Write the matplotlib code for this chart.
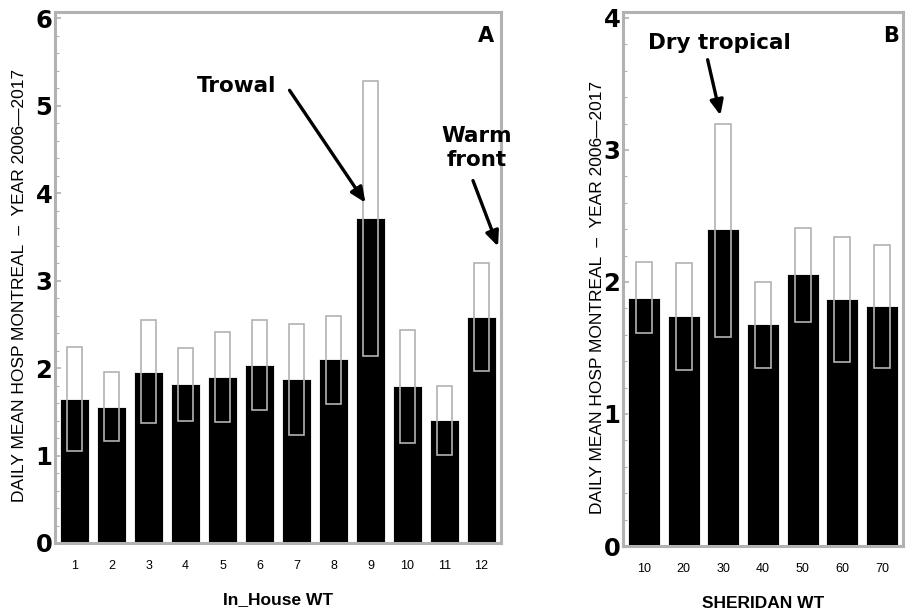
import numpy as np
import matplotlib
matplotlib.use("Agg")
import matplotlib.pyplot as plt
from matplotlib.ticker import MultipleLocator

# ============== data
inhouse_wt = [1, 2, 3, 4, 5, 6, 7, 8, 9, 10, 11, 12]
inhouse_mean = [1.65, 1.56, 1.96, 1.82, 1.90, 2.04, 1.87, 2.10, 3.72, 1.80, 1.41, 2.58]
inhouse_lo = [1.05, 1.17, 1.37, 1.39, 1.38, 1.52, 1.24, 1.59, 2.14, 1.14, 1.01, 1.97]
inhouse_hi = [2.24, 1.96, 2.55, 2.23, 2.41, 2.55, 2.50, 2.60, 5.28, 2.43, 1.80, 3.20]

sheridan_wt = [10, 20, 30, 40, 50, 60, 70]
sheridan_mean = [1.88, 1.74, 2.40, 1.68, 2.06, 1.87, 1.82]
sheridan_lo = [1.61, 1.33, 1.58, 1.35, 1.70, 1.39, 1.35]
sheridan_hi = [2.15, 2.14, 3.20, 2.00, 2.41, 2.34, 2.28]

W, H = 906, 612
GRAY = "#b2b2b2"
YLABEL = "DAILY MEAN HOSP MONTREAL  \u2013  YEAR 2006\u20142017"

fig = plt.figure(figsize=(W / 100, H / 100), dpi=100)


def px_axes(x0, y0, x1, y1):
    # axes from pixel box (top-left origin)
    return fig.add_axes([x0 / W, 1 - y1 / H, (x1 - x0) / W, (y1 - y0) / H])


def draw_panel(ax, cats, mean, lo, hi, ymax, letter):
    pos = np.arange(1, len(cats) + 1)
    ax.bar(pos, mean, width=0.8, color="black", edgecolor="white", linewidth=0.6, zorder=2)
    ax.bar(pos, np.array(hi) - np.array(lo), bottom=lo, width=0.4,
           fill=False, edgecolor=GRAY, linewidth=1.2, zorder=3)
    ax.set_xlim(pos[0] - 0.53, pos[-1] + 0.53)
    ax.set_ylim(0, ymax)
    ax.set_xticks(pos)
    ax.set_xticklabels([str(c) for c in cats], fontsize=9, family="Liberation Sans")
    ax.yaxis.set_major_locator(MultipleLocator(1))
    ax.yaxis.set_minor_locator(MultipleLocator(0.2))
    for lab in ax.get_yticklabels():
        lab.set_fontsize(17.5)
        lab.set_fontweight("bold")
        lab.set_family("DejaVu Sans")
    ax.tick_params(axis="y", which="both", direction="in", color=GRAY, pad=2)
    ax.tick_params(axis="y", which="major", length=4, width=1.2)
    ax.tick_params(axis="y", which="minor", length=3, width=0.8)
    ax.tick_params(axis="x", length=0, pad=12)
    for sp in ax.spines.values():
        sp.set_color(GRAY)
        sp.set_linewidth(2.2)
    ax.text(0.985, 0.955, letter, transform=ax.transAxes, ha="right", va="center",
            fontsize=15, fontweight="bold", family="DejaVu Sans")


# ---------- panel A
axA = px_axes(55, 12, 501, 543)
draw_panel(axA, inhouse_wt, inhouse_mean, inhouse_lo, inhouse_hi, 6.07, "A")

# ---------- panel B
axB = px_axes(623, 12, 903, 546)
draw_panel(axB, sheridan_wt, sheridan_mean, sheridan_lo, sheridan_hi, 4.045, "B")

# axis titles
fig.text(278 / W, 1 - 600 / H, "In_House WT", ha="center", va="center",
         fontsize=12.5, fontweight="bold", family="Liberation Sans")
fig.text(763 / W, 1 - 603 / H, "SHERIDAN WT", ha="center", va="center",
         fontsize=12.5, fontweight="bold", family="Liberation Sans")
fig.text(20 / W, 1 - 285 / H, YLABEL, rotation=90, ha="center", va="center",
         fontsize=12.5, family="Liberation Sans")
fig.text(597 / W, 1 - 297 / H, YLABEL, rotation=90, ha="center", va="center",
         fontsize=12.5, family="Liberation Sans")

# annotations with arrows (figure pixel coords)
ann_font = dict(fontsize=15.5, fontweight="bold", family="DejaVu Sans")
arrow = dict(arrowstyle="-|>,head_length=0.9,head_width=0.4", color="black", lw=2.4)
fig.text(237 / W, 1 - 86 / H, "Trowal", ha="center", va="center", **ann_font)
axA.annotate("", xy=(367 / W, 1 - 205 / H), xytext=(288 / W, 1 - 88 / H),
             xycoords="figure fraction", textcoords="figure fraction", arrowprops=arrow)
fig.text(477 / W, 1 - 148 / H, "Warm\nfront", ha="center", va="center",
         linespacing=1.25, **ann_font)
axA.annotate("", xy=(499 / W, 1 - 249 / H), xytext=(472 / W, 1 - 178 / H),
             xycoords="figure fraction", textcoords="figure fraction", arrowprops=arrow)
fig.text(719 / W, 1 - 43 / H, "Dry tropical", ha="center", va="center", **ann_font)
axB.annotate("", xy=(721 / W, 1 - 118 / H), xytext=(707 / W, 1 - 57 / H),
             xycoords="figure fraction", textcoords="figure fraction", arrowprops=arrow)

fig.savefig("out.png", dpi=100)
